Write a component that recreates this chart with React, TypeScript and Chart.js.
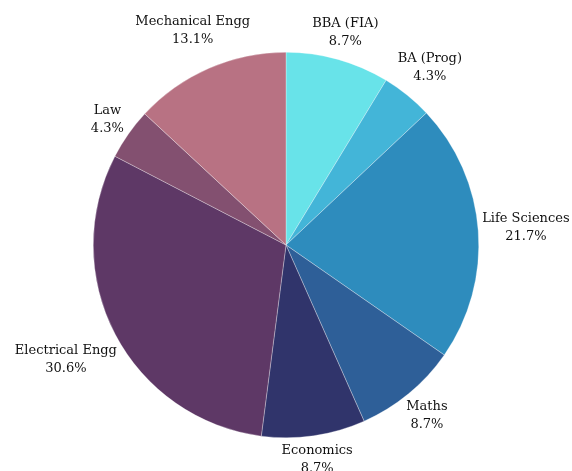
import React, { useEffect, useRef } from "react";
import { Chart, registerables } from "chart.js";

Chart.register(...registerables);

const categories = [
  "BBA (FIA)",
  "BA (Prog)",
  "Life Sciences",
  "Maths",
  "Economics",
  "Electrical Engg",
  "Law",
  "Mechanical Engg",
];
const shares = [8.7, 4.3, 21.7, 8.7, 8.7, 30.6, 4.3, 13.1];
const sliceColors = [
  "#68E3E9",
  "#43B5D8",
  "#2E8CBD",
  "#2E5F98",
  "#30346B",
  "#5E3866",
  "#835070",
  "#B87283",
];

const FONT = '13px "DejaVu Serif"';
const LINE_H = 18;
const BLOCK_H = 32;
const OFFSET = 3;

const outerLabels = {
  id: "outerLabels",
  afterDatasetsDraw(chart: any) {
    const ctx = chart.ctx;
    const meta = chart.getDatasetMeta(0);
    const data = chart.data.datasets[0].data as number[];
    const total = data.reduce((a, b) => a + b, 0);
    ctx.save();
    ctx.font = FONT;
    ctx.fillStyle = "#111";
    ctx.textAlign = "center";
    ctx.textBaseline = "middle";
    meta.data.forEach((arc: any, i: number) => {
      const { x, y, startAngle, endAngle, outerRadius } = arc.getProps(
        ["x", "y", "startAngle", "endAngle", "outerRadius"],
        true
      );
      const mid = (startAngle + endAngle) / 2;
      const dx = Math.cos(mid);
      const dy = Math.sin(mid);
      const l1 = String(chart.data.labels[i]);
      const l2 = ((data[i] / total) * 100).toFixed(1) + "%";
      const w = Math.max(ctx.measureText(l1).width, ctx.measureText(l2).width);
      const dist =
        outerRadius + OFFSET + (w / 2) * Math.abs(dx) + (BLOCK_H / 2) * Math.abs(dy);
      const cx = x + dx * dist;
      const cy = y + dy * dist;
      ctx.fillText(l1, cx, cy - LINE_H / 2);
      ctx.fillText(l2, cx, cy + LINE_H / 2);
    });
    ctx.restore();
  },
};

export default function App() {
  const ref = useRef<HTMLCanvasElement | null>(null);
  useEffect(() => {
    if (!ref.current) return;
    const chart = new Chart(ref.current, {
      type: "pie",
      data: {
        labels: categories,
        datasets: [
          {
            data: shares,
            backgroundColor: sliceColors,
            borderColor: "rgba(255,255,255,0.6)",
            borderWidth: 0.5,
          },
        ],
      },
      options: {
        animation: false,
        responsive: false,
        maintainAspectRatio: false,
        layout: { padding: { top: 52, bottom: 33, left: 0, right: 0 } },
        plugins: {
          legend: { display: false },
          tooltip: { enabled: false },
        },
      },
      plugins: [outerLabels],
    });
    return () => chart.destroy();
  }, []);
  return (
    <div style={{ position: "fixed", left: 0, top: 0, width: 572, height: 471, background: "#fff" }}>
      <canvas ref={ref} width={572} height={471} style={{ width: 572, height: 471 }} />
    </div>
  );
}
